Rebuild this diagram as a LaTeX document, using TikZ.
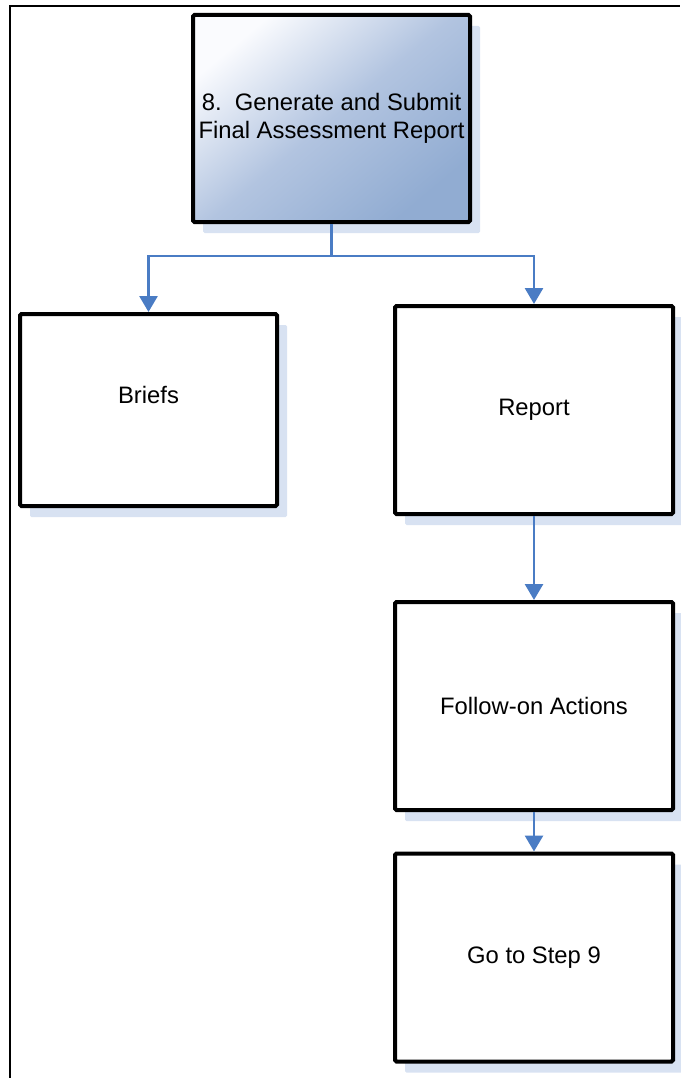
\documentclass[tikz,border=0pt]{standalone}
\usepackage{fontspec}
\setmainfont{Liberation Sans}
\usetikzlibrary{arrows.meta,shadows}
\definecolor{shadowblue}{RGB}{216,226,242}
\definecolor{linkblue}{RGB}{74,124,196}
\definecolor{gradtop}{RGB}{250,251,254}
\definecolor{gradmid}{RGB}{178,196,224}
\definecolor{gradbot}{RGB}{145,172,210}
\tikzset{
  stepbox/.style={draw=black, line width=4pt, rounded corners=1.5pt, fill=white,
    inner sep=0pt, align=center, font=\fontsize{23.8pt}{28pt}\selectfont,
    general shadow={shadow xshift=10pt, shadow yshift=-11pt, fill=shadowblue, draw=none}},
  headbox/.style={stepbox, top color=gradtop, bottom color=gradbot, middle color=gradmid, shading angle=40},
  link/.style={draw=linkblue, line width=2.8pt, -{Triangle[width=18pt,length=16pt]}},
  plainlink/.style={draw=linkblue, line width=2.8pt},
}
\begin{document}
\begin{tikzpicture}[x=1pt,y=-1pt]
\useasboundingbox (0,0) rectangle (680,1078);
\draw[line width=1.8pt] (10,1078) -- (10,6) -- (680,6);
\node[headbox, minimum width=277pt, minimum height=207pt] (top) at (331.5,118.5) {8.\ \ Generate and Submit\\Final Assessment Report};
\node[stepbox, minimum width=257pt, minimum height=192pt, text depth=0pt] (briefs) at (148.5,410) {\raisebox{30pt}{Briefs}};
\node[stepbox, minimum width=278pt, minimum height=208pt] (report) at (534,410) {Report};
\node[stepbox, minimum width=278pt, minimum height=208pt] (follow) at (534,706) {Follow-on Actions};
\node[stepbox, minimum width=278pt, minimum height=208pt] (go) at (534,957.5) {Go to Step 9};
\coordinate (j) at (331.5,256);
\draw[plainlink] (top.south) -- (j);
\draw[link] (j) -| (briefs.north);
\draw[link] (j) -| (report.north);
\draw[link] (report.south) -- (follow.north);
\draw[link] (follow.south) -- (go.north);
\end{tikzpicture}
\end{document}
